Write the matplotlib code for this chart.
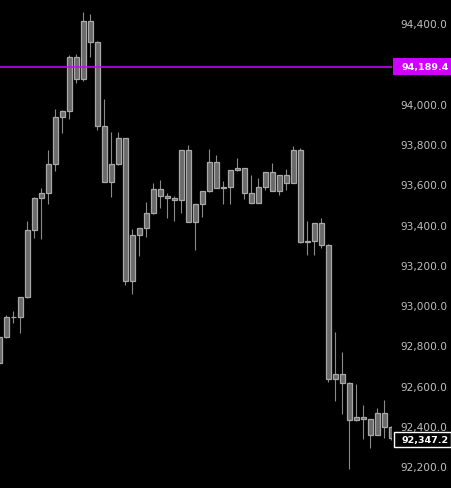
import matplotlib
matplotlib.use("Agg")
import matplotlib.pyplot as plt
from matplotlib.patches import Rectangle
from matplotlib.transforms import blended_transform_factory

opens = [92716, 92845, 92945, 92945, 93044, 93376, 93535, 93560, 93706, 93939,
         93967, 94235, 94126, 94414, 94310, 93896, 93618, 93704, 93833, 93126,
         93352, 93386, 93461, 93580, 93548, 93538, 93528, 93774, 93420, 93506,
         93570, 93714, 93588, 93592, 93674, 93684, 93563, 93514, 93590, 93664,
         93573, 93650, 93613, 93774, 93320, 93325, 93411, 93305, 92640, 92662,
         92620, 92436, 92448, 92438, 92362, 92468, 92402]
highs = [92848, 92956, 92976, 93046, 93423, 93543, 93586, 93775, 93979, 93972,
         94247, 94252, 94460, 94450, 94318, 94028, 93865, 93865, 93835, 93383,
         93388, 93517, 93611, 93626, 93562, 93547, 93776, 93800, 93508, 93572,
         93780, 93750, 93621, 93676, 93735, 93686, 93651, 93638, 93666, 93711,
         93652, 93681, 93795, 93785, 93423, 93413, 93438, 93309, 92872, 92772,
         92624, 92613, 92509, 92442, 92493, 92534, 92405]
lows = [92703, 92843, 92918, 92865, 93042, 93340, 93335, 93506, 93672, 93861,
        93928, 94109, 94119, 94235, 93874, 93616, 93543, 93700, 93105, 93062,
        93250, 93345, 93458, 93489, 93439, 93424, 93464, 93418, 93279, 93444,
        93566, 93586, 93509, 93509, 93671, 93533, 93512, 93512, 93577, 93571,
        93552, 93577, 93611, 93315, 93254, 93254, 93290, 92625, 92531, 92466,
        92193, 92431, 92342, 92297, 92360, 92345, 92335]
closes = [92845, 92945, 92947, 93044, 93376, 93535, 93562, 93706, 93939, 93967,
          94235, 94126, 94414, 94310, 93896, 93618, 93704, 93833, 93126, 93352,
          93386, 93461, 93580, 93548, 93538, 93528, 93774, 93420, 93506, 93570,
          93714, 93588, 93592, 93674, 93684, 93563, 93514, 93590, 93664, 93573,
          93650, 93613, 93774, 93320, 93324, 93411, 93305, 92640, 92662, 92620,
          92436, 92448, 92438, 92362, 92468, 92402, 92347.2]

yticks = [92200, 92400, 92600, 92800, 93000, 93200, 93400, 93600, 93800,
          94000, 94400]
yticklabels = ["92,200.0", "92,400.0", "92,600.0", "92,800.0", "93,000.0",
               "93,200.0", "93,400.0", "93,600.0", "93,800.0", "94,000.0",
               "94,400.0"]
line_price = 94189.4
line_label = "94,189.4"
last_label = "92,347.2"

W, H = 452, 488
fig = plt.figure(figsize=(W / 100, H / 100), dpi=100, facecolor="black")
ax = fig.add_axes([0, 0, 392 / W, 1])
ax.set_facecolor("black")
for s in ax.spines.values():
    s.set_visible(False)

body_w = 0.64
for i, (o, h, l, c) in enumerate(zip(opens, highs, lows, closes)):
    top, bot = max(o, c), min(o, c)
    ax.vlines(i, l, h, color="#8a8a8a", lw=0.8, zorder=1)
    hgt = max(top - bot, 2)
    ax.add_patch(Rectangle((i - body_w / 2, bot), body_w, hgt,
                           facecolor="#6a6a6a", edgecolor="#a8a8a8",
                           lw=0.9, zorder=2))

ax.set_xlim(0.1, 56.1)
ax.set_ylim(92097, 94520)
ax.set_xticks([])
ax.yaxis.tick_right()
ax.set_yticks(yticks)
ax.set_yticklabels(yticklabels)
ax.tick_params(axis="y", length=0, pad=6.3, labelsize=7.6, labelcolor="#c0c0c0")

ax.axhline(line_price, color="#d000ff", lw=1.1, zorder=3)

tr = blended_transform_factory(ax.transAxes, ax.transData)
x0 = 393.3 / 392
bw = (452 - 393.3) / 392
ax.add_patch(Rectangle((x0, line_price - 42), bw, 84, transform=tr,
                       facecolor="#d000ff", edgecolor="none",
                       clip_on=False, zorder=5))
ax.text(401.5 / 392, line_price, line_label, transform=tr, color="white",
        fontsize=6.8, fontweight="bold", ha="left", va="center_baseline",
        clip_on=False, zorder=6)

last = closes[-1]
ax.add_patch(Rectangle((x0 + 0.5 / 392, last - 46), bw - 1.5 / 392, 76,
                       transform=tr, facecolor="black", edgecolor="white",
                       lw=1.0, clip_on=False, zorder=5))
ax.text(401 / 392, last - 8, last_label, transform=tr, color="white",
        fontsize=6.8, fontweight="bold", ha="left", va="center_baseline",
        clip_on=False, zorder=6)

fig.savefig("out.png", dpi=100, facecolor="black")
